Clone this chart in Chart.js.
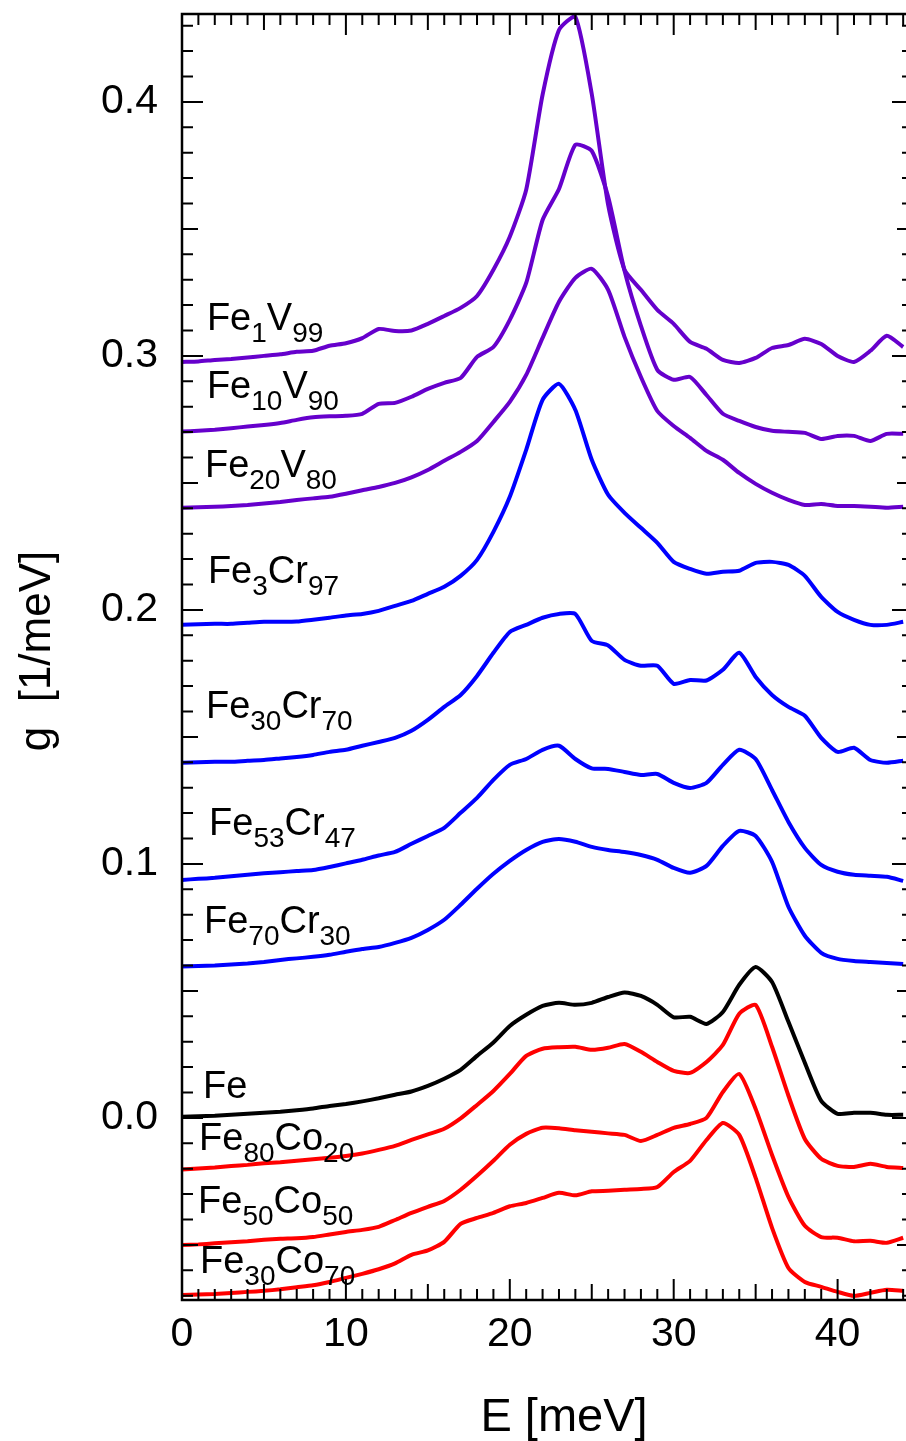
<!DOCTYPE html>
<html>
<head>
<meta charset="utf-8">
<script src="https://cdn.jsdelivr.net/npm/chart.js@4.4.1/dist/chart.umd.min.js"></script>
<style>
  body { margin: 0; background: #fff; overflow: hidden; }
  #wrap { width: 920px; height: 1441px; }
</style>
</head>
<body>
<div id="wrap"><canvas id="chartDos"></canvas></div>
<script>
// energies (meV)
var energia = [0,1,2,3,4,5,6,7,8,9,10,11,12,13,14,15,16,17,18,19,20,21,22,23,24,25,26,27,28,29,30,31,32,33,34,35,36,37,38,39,40,41,42,43,44];

// g(E) per alloy, 1/meV (curves already shifted as in the figure)
var fe1v99 = [0.2976,0.2978,0.2984,0.2988,0.2994,0.3000,0.3006,0.3016,0.3020,0.3040,0.3050,0.3070,0.3106,0.3098,0.3100,0.3126,0.3157,0.3189,0.3236,0.3339,0.3469,0.3654,0.4028,0.4283,0.4335,0.4031,0.3594,0.3339,0.3260,0.3181,0.3126,0.3055,0.3028,0.2984,0.2972,0.2992,0.3031,0.3043,0.3067,0.3047,0.3000,0.2976,0.3020,0.3079,0.3035];
var fe10v90 = [0.2702,0.2705,0.2709,0.2715,0.2722,0.2728,0.2736,0.2748,0.2758,0.2762,0.2764,0.2772,0.2811,0.2815,0.2839,0.2870,0.2894,0.2913,0.2996,0.3035,0.3142,0.3287,0.3535,0.3657,0.3831,0.3807,0.3626,0.3335,0.3118,0.2945,0.2906,0.2917,0.2846,0.2772,0.2744,0.2720,0.2705,0.2701,0.2697,0.2673,0.2685,0.2685,0.2665,0.2693,0.2693];
var fe20v80 = [0.2402,0.2404,0.2406,0.2409,0.2413,0.2419,0.2425,0.2433,0.2439,0.2445,0.2457,0.2471,0.2484,0.2500,0.2522,0.2551,0.2587,0.2622,0.2665,0.2740,0.2819,0.2925,0.3071,0.3213,0.3307,0.3343,0.3260,0.3075,0.2917,0.2783,0.2724,0.2677,0.2626,0.2591,0.2539,0.2496,0.2461,0.2433,0.2413,0.2417,0.2409,0.2409,0.2406,0.2402,0.2406];
var fe3cr97 = [0.1941,0.1943,0.1945,0.1945,0.1949,0.1953,0.1953,0.1954,0.1961,0.1969,0.1978,0.1984,0.1996,0.2016,0.2035,0.2063,0.2091,0.2134,0.2197,0.2307,0.2445,0.2630,0.2827,0.2890,0.2787,0.2591,0.2453,0.2382,0.2323,0.2264,0.2189,0.2161,0.2142,0.2150,0.2154,0.2185,0.2189,0.2177,0.2134,0.2051,0.1992,0.1961,0.1941,0.1941,0.1953];
var fe30cr70 = [0.1398,0.1400,0.1402,0.1402,0.1406,0.1409,0.1415,0.1421,0.1429,0.1441,0.1449,0.1465,0.1480,0.1496,0.1524,0.1567,0.1618,0.1665,0.1740,0.1831,0.1913,0.1941,0.1969,0.1984,0.1984,0.1878,0.1860,0.1803,0.1780,0.1780,0.1709,0.1724,0.1722,0.1764,0.1831,0.1736,0.1665,0.1618,0.1583,0.1496,0.1441,0.1457,0.1409,0.1398,0.1406];
var fe53cr47 = [0.0937,0.0941,0.0945,0.0951,0.0957,0.0963,0.0967,0.0972,0.0976,0.0988,0.1002,0.1016,0.1033,0.1047,0.1079,0.1110,0.1142,0.1201,0.1260,0.1331,0.1390,0.1413,0.1449,0.1465,0.1413,0.1376,0.1374,0.1362,0.1350,0.1354,0.1319,0.1299,0.1319,0.1390,0.1449,0.1413,0.1291,0.1165,0.1063,0.0996,0.0969,0.0957,0.0953,0.0949,0.0933];
var fe70cr30 = [0.0596,0.0598,0.0600,0.0604,0.0608,0.0614,0.0622,0.0628,0.0634,0.0642,0.0654,0.0665,0.0673,0.0689,0.0709,0.0740,0.0780,0.0839,0.0902,0.0961,0.1012,0.1055,0.1087,0.1098,0.1087,0.1067,0.1055,0.1047,0.1035,0.1016,0.0984,0.0965,0.0992,0.1071,0.1130,0.1110,0.1008,0.0831,0.0717,0.0650,0.0626,0.0618,0.0614,0.0610,0.0606];
var fePuro = [0.0004,0.0006,0.0008,0.0012,0.0016,0.0020,0.0024,0.0030,0.0037,0.0047,0.0055,0.0065,0.0077,0.0091,0.0104,0.0126,0.0154,0.0189,0.0244,0.0297,0.0362,0.0406,0.0441,0.0453,0.0445,0.0453,0.0476,0.0494,0.0480,0.0445,0.0396,0.0398,0.0370,0.0417,0.0524,0.0594,0.0535,0.0378,0.0217,0.0067,0.0016,0.0020,0.0020,0.0012,0.0012];
var fe80co20 = [-0.0203,-0.0199,-0.0195,-0.0189,-0.0185,-0.0179,-0.0175,-0.0169,-0.0163,-0.0157,-0.0150,-0.0140,-0.0126,-0.0110,-0.0087,-0.0065,-0.0043,-0.0002,0.0051,0.0106,0.0173,0.0244,0.0272,0.0278,0.0280,0.0268,0.0276,0.0291,0.0260,0.0220,0.0185,0.0177,0.0220,0.0287,0.0410,0.0445,0.0280,0.0087,-0.0083,-0.0161,-0.0189,-0.0193,-0.0181,-0.0193,-0.0197];
var fe50co50 = [-0.0500,-0.0498,-0.0494,-0.0490,-0.0486,-0.0480,-0.0476,-0.0474,-0.0469,-0.0459,-0.0449,-0.0441,-0.0429,-0.0402,-0.0374,-0.0350,-0.0327,-0.0283,-0.0228,-0.0169,-0.0106,-0.0063,-0.0039,-0.0041,-0.0049,-0.0055,-0.0061,-0.0067,-0.0091,-0.0067,-0.0039,-0.0024,0.0000,0.0102,0.0173,0.0035,-0.0146,-0.0311,-0.0425,-0.0469,-0.0472,-0.0486,-0.0484,-0.0492,-0.0472];
var fe30co70 = [-0.0697,-0.0695,-0.0693,-0.0689,-0.0685,-0.0681,-0.0675,-0.0667,-0.0659,-0.0646,-0.0630,-0.0614,-0.0596,-0.0573,-0.0539,-0.0522,-0.0488,-0.0417,-0.0394,-0.0374,-0.0348,-0.0335,-0.0315,-0.0295,-0.0305,-0.0289,-0.0287,-0.0283,-0.0280,-0.0272,-0.0213,-0.0169,-0.0087,-0.0020,-0.0067,-0.0236,-0.0433,-0.0591,-0.0646,-0.0665,-0.0685,-0.0701,-0.0689,-0.0677,-0.0681];

var series = [fe1v99, fe10v90, fe20v80, fe3cr97, fe30cr70, fe53cr47, fe70cr30, fePuro, fe80co20, fe50co50, fe30co70];
var cores = ['#6600cc','#6600cc','#6600cc','#0000ff','#0000ff','#0000ff','#0000ff','#000000','#ff0000','#ff0000','#ff0000'];

// labels: [base, sub, base, sub]
var rotulos = [
  ['Fe','1','V','99'], ['Fe','10','V','90'], ['Fe','20','V','80'],
  ['Fe','3','Cr','97'], ['Fe','30','Cr','70'], ['Fe','53','Cr','47'], ['Fe','70','Cr','30'],
  ['Fe'], ['Fe','80','Co','20'], ['Fe','50','Co','50'], ['Fe','30','Co','70']
];
var rotuloE = [1.52, 1.52, 1.40, 1.58, 1.46, 1.65, 1.34, 1.28, 1.04, 0.98, 1.10];
var rotuloG = [0.3102, 0.2835, 0.2524, 0.2106, 0.1575, 0.1114, 0.0728, 0.0079, -0.0126, -0.0374, -0.0610];

var xTicks = [0, 10, 20, 30, 40];
var yTicks = [0.0, 0.1, 0.2, 0.3, 0.4];

var fonte = 'Liberation Sans, Arial, sans-serif';

var moldura = {
  id: 'moldura',
  afterDatasetsDraw: function (chart) {
    var ctx = chart.ctx, a = chart.chartArea, x = chart.scales.x, y = chart.scales.y;
    ctx.save();
    ctx.strokeStyle = '#000';
    ctx.lineWidth = 2;
    ctx.beginPath();
    for (var v = 0; v <= 44; v++) {
      var px = x.getPixelForValue(v);
      var len = v % 10 === 0 ? 21 : (v % 5 === 0 ? 16 : 11);
      ctx.moveTo(px, a.top); ctx.lineTo(px, a.top + len);
      ctx.moveTo(px, a.bottom); ctx.lineTo(px, a.bottom - len);
    }
    for (var k = -7; k <= 43; k++) {
      var py = y.getPixelForValue(k / 100);
      var l = k % 10 === 0 ? 21 : (k % 5 === 0 ? 16 : 11);
      ctx.moveTo(a.left, py); ctx.lineTo(a.left + l, py);
      ctx.moveTo(a.right, py); ctx.lineTo(a.right - l, py);
    }
    ctx.stroke();
    ctx.lineWidth = 2.5;
    ctx.strokeRect(a.left, a.top, a.right - a.left, a.bottom - a.top);

    // curve labels with subscripts
    ctx.fillStyle = '#000';
    ctx.textBaseline = 'alphabetic';
    ctx.textAlign = 'left';
    for (var i = 0; i < rotulos.length; i++) {
      var cx = x.getPixelForValue(rotuloE[i]);
      var cy = y.getPixelForValue(rotuloG[i]);
      var partes = rotulos[i];
      for (var j = 0; j < partes.length; j++) {
        var sub = j % 2 === 1;
        ctx.font = (sub ? '28px ' : '38px ') + fonte;
        ctx.fillText(partes[j], cx, cy + (sub ? 12 : 0));
        cx += ctx.measureText(partes[j]).width;
      }
    }

    // axis titles
    ctx.textAlign = 'center';
    ctx.textBaseline = 'middle';
    ctx.font = '47px ' + fonte;
    ctx.fillText('E [meV]', 564, 1418);
    ctx.font = '44px ' + fonte;
    ctx.translate(38, 651);
    ctx.rotate(-Math.PI / 2);
    ctx.fillText('g  [1/meV]', 0, 0);
    ctx.restore();
  }
};

var ctxDos = document.getElementById('chartDos').getContext('2d');
var chart = new Chart(ctxDos, {
  type: 'line',
  data: {
    datasets: series.map(function (s, i) {
      return {
        data: energia.map(function (e, j) { return { x: e, y: s[j] }; }),
        borderColor: cores[i],
        borderWidth: 4,
        pointRadius: 0,
        tension: 0.2,
        fill: false
      };
    })
  },
  options: {
    responsive: true,
    maintainAspectRatio: false,
    animation: false,
    layout: { padding: { left: 0, top: 14, right: 7, bottom: 0 } },
    plugins: { legend: { display: false }, tooltip: { enabled: false } },
    scales: {
      x: {
        type: 'linear', min: 0, max: 44.6,
        afterBuildTicks: function (s) { s.ticks = xTicks.map(function (v) { return { value: v }; }); },
        afterFit: function (s) { s.height = 141; s.paddingLeft = 0; s.paddingRight = 0; },
        grid: { display: false, drawTicks: false },
        border: { display: false },
        ticks: { color: '#000', font: { family: fonte, size: 41 }, padding: 10, maxRotation: 0, autoSkip: false }
      },
      y: {
        type: 'linear', min: -0.0717, max: 0.4346,
        afterBuildTicks: function (s) { s.ticks = yTicks.map(function (v) { return { value: v }; }); },
        afterFit: function (s) { s.width = 182; s.paddingTop = 0; s.paddingBottom = 0; },
        grid: { display: false, drawTicks: false },
        border: { display: false },
        ticks: { color: '#000', font: { family: fonte, size: 41 }, padding: 24,
          callback: function (v) { return v.toFixed(1); } }
      }
    }
  },
  plugins: [moldura]
});
</script>
</body>
</html>
